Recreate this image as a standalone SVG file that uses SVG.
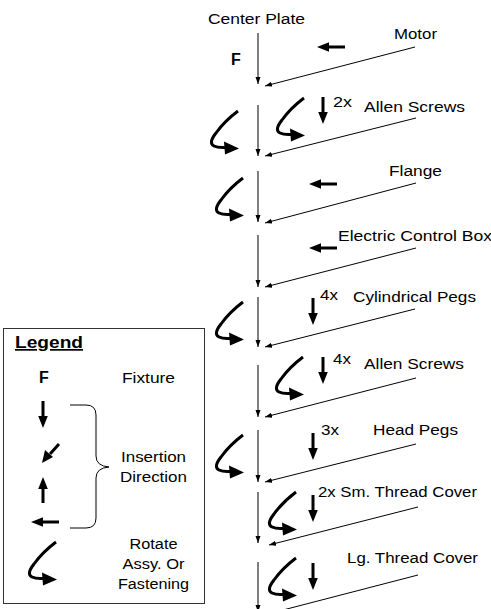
<svg xmlns="http://www.w3.org/2000/svg" xmlns:xlink="http://www.w3.org/1999/xlink" width="491" height="609" viewBox="0 0 491 609">
  <style>
    text { font-family: "Liberation Sans", Arial, sans-serif; font-size: 15.5px; fill: #000; }
    .b { font-weight: bold; font-size: 16px; }
    .sm { font-size: 14.5px; }
    .thin { stroke: #000; stroke-width: 1; fill: none; }
    .thick { stroke: #000; stroke-width: 3; fill: none; stroke-linecap: butt; }
    .head { fill: #000; stroke: none; }
  </style>
  <defs>
    <marker id="tip" markerUnits="userSpaceOnUse" markerWidth="8" markerHeight="6" refX="7" refY="3" orient="auto">
      <path d="M0,0.5 L7,3 L0,5.5 z" fill="#000"/>
    </marker>
    <!-- heavy down arrow: insertion from above -->
    <g id="dn">
      <line class="thick" x1="0" y1="0" x2="0" y2="17"/>
      <polygon class="head" points="-4.8,15 4.8,15 0,27"/>
    </g>
    <!-- heavy left arrow: insertion from the side -->
    <g id="lt">
      <line class="thick" x1="0" y1="0" x2="-17" y2="0"/>
      <polygon class="head" points="-16,-4.8 -16,4.8 -28,0"/>
    </g>
    <!-- rotate assembly / fastening symbol, origin at the top end of the stroke -->
    <g id="rot">
      <path class="thick" d="M0,0 C-8,6 -17,15 -22,22 Q-30,32 -24,35 Q-20,37 -13,36.5"/>
      <polygon class="head" points="-14,30.5 1,37.5 -13,43.5"/>
    </g>
  </defs>

  <!-- assembly sequence connectors -->
  <g id="connectors">
    <line class="thin" x1="258" y1="33" x2="258" y2="84" marker-end="url(#tip)"/>
    <line class="thin" x1="258" y1="105" x2="258" y2="156" marker-end="url(#tip)"/>
    <line class="thin" x1="258" y1="171" x2="258" y2="222" marker-end="url(#tip)"/>
    <line class="thin" x1="258" y1="235" x2="258" y2="287" marker-end="url(#tip)"/>
    <line class="thin" x1="258" y1="297" x2="258" y2="347" marker-end="url(#tip)"/>
    <line class="thin" x1="258" y1="365" x2="258" y2="417" marker-end="url(#tip)"/>
    <line class="thin" x1="258" y1="430" x2="258" y2="482" marker-end="url(#tip)"/>
    <line class="thin" x1="258" y1="492" x2="258" y2="543" marker-end="url(#tip)"/>
    <line class="thin" x1="258" y1="562" x2="258" y2="612" marker-end="url(#tip)"/>

    <line class="thin" x1="415" y1="47" x2="265" y2="86" marker-end="url(#tip)"/>
    <line class="thin" x1="416" y1="118" x2="265" y2="156" marker-end="url(#tip)"/>
    <line class="thin" x1="416" y1="183" x2="265" y2="223" marker-end="url(#tip)"/>
    <line class="thin" x1="416" y1="248" x2="265" y2="287" marker-end="url(#tip)"/>
    <line class="thin" x1="415" y1="309" x2="265" y2="347" marker-end="url(#tip)"/>
    <line class="thin" x1="416" y1="378" x2="265" y2="417" marker-end="url(#tip)"/>
    <line class="thin" x1="416" y1="444" x2="265" y2="482" marker-end="url(#tip)"/>
    <line class="thin" x1="418" y1="507" x2="269" y2="545" marker-end="url(#tip)"/>
    <line class="thin" x1="418" y1="575" x2="283" y2="610"/>
  </g>

  <g id="center-plate">
    <text x="208" y="24" textLength="97" lengthAdjust="spacingAndGlyphs">Center Plate</text>
    <text class="b" x="231" y="65">F</text>
  </g>

  <g id="motor">
    <use xlink:href="#lt" x="345" y="47"/>
    <text x="394" y="39" textLength="43" lengthAdjust="spacingAndGlyphs">Motor</text>
  </g>

  <g id="allen-screws-1">
    <use xlink:href="#rot" x="238" y="111"/>
    <use xlink:href="#rot" x="304" y="98"/>
    <use xlink:href="#dn" x="323" y="97"/>
    <text class="sm" x="333" y="107" textLength="19" lengthAdjust="spacingAndGlyphs">2x</text>
    <text x="364" y="112" textLength="101" lengthAdjust="spacingAndGlyphs">Allen Screws</text>
  </g>

  <g id="flange">
    <use xlink:href="#rot" x="243" y="178"/>
    <use xlink:href="#lt" x="337" y="184"/>
    <text x="389" y="176" textLength="53" lengthAdjust="spacingAndGlyphs">Flange</text>
  </g>

  <g id="electric-control-box">
    <use xlink:href="#lt" x="337" y="248"/>
    <text x="338" y="241" textLength="154" lengthAdjust="spacingAndGlyphs">Electric Control Box</text>
  </g>

  <g id="cylindrical-pegs">
    <use xlink:href="#rot" x="243" y="302"/>
    <use xlink:href="#dn" x="313" y="298"/>
    <text class="sm" x="320" y="300" textLength="18" lengthAdjust="spacingAndGlyphs">4x</text>
    <text x="353" y="302" textLength="123" lengthAdjust="spacingAndGlyphs">Cylindrical Pegs</text>
  </g>

  <g id="allen-screws-2">
    <use xlink:href="#rot" x="303" y="357"/>
    <use xlink:href="#dn" x="323" y="357"/>
    <text class="sm" x="333" y="364" textLength="18" lengthAdjust="spacingAndGlyphs">4x</text>
    <text x="364" y="369" textLength="100" lengthAdjust="spacingAndGlyphs">Allen Screws</text>
  </g>

  <g id="head-pegs">
    <use xlink:href="#rot" x="243" y="435"/>
    <use xlink:href="#dn" x="313" y="433"/>
    <text class="sm" x="321" y="435" textLength="18" lengthAdjust="spacingAndGlyphs">3x</text>
    <text x="373" y="435" textLength="85" lengthAdjust="spacingAndGlyphs">Head Pegs</text>
  </g>

  <g id="small-thread-cover">
    <use xlink:href="#rot" x="296" y="492"/>
    <use xlink:href="#dn" x="313" y="495"/>
    <text x="318" y="497" textLength="159" lengthAdjust="spacingAndGlyphs">2x Sm. Thread Cover</text>
  </g>

  <g id="large-thread-cover">
    <use xlink:href="#rot" x="296" y="558"/>
    <use xlink:href="#dn" x="313" y="563"/>
    <text x="347" y="563" textLength="131" lengthAdjust="spacingAndGlyphs">Lg. Thread Cover</text>
  </g>

  <g id="legend">
    <rect x="3.5" y="328.5" width="201" height="275" fill="none" stroke="#333" stroke-width="1"/>
    <text class="b" x="15" y="348" style="font-size:17px" text-decoration="underline" textLength="68" lengthAdjust="spacingAndGlyphs">Legend</text>
    <text class="b" x="39" y="383">F</text>
    <text x="122" y="383" textLength="53" lengthAdjust="spacingAndGlyphs">Fixture</text>

    <use xlink:href="#dn" x="43" y="401"/>
    <!-- diagonal insertion arrow -->
    <line class="thick" x1="59" y1="444" x2="50" y2="454"/>
    <polygon class="head" points="45,450 53,457 42,463"/>
    <!-- upward insertion arrow -->
    <line class="thick" x1="43" y1="503" x2="43" y2="487"/>
    <polygon class="head" points="38.2,489 47.8,489 43,477"/>
    <use xlink:href="#lt" x="59" y="522"/>

    <path class="thin" d="M70,405 H86 Q96,405 96,415 V456 Q96,466 109,467 Q96,468 96,478 V518 Q96,528 86,528 H70"/>
    <text x="121" y="462" textLength="65" lengthAdjust="spacingAndGlyphs">Insertion</text>
    <text x="120" y="482" textLength="67" lengthAdjust="spacingAndGlyphs">Direction</text>

    <use xlink:href="#rot" x="56" y="542"/>
    <text x="153.5" y="549" text-anchor="middle" textLength="48" lengthAdjust="spacingAndGlyphs">Rotate</text>
    <text x="153.5" y="569" text-anchor="middle" textLength="62" lengthAdjust="spacingAndGlyphs">Assy. Or</text>
    <text x="153.5" y="589" text-anchor="middle" textLength="71" lengthAdjust="spacingAndGlyphs">Fastening</text>
  </g>
</svg>
